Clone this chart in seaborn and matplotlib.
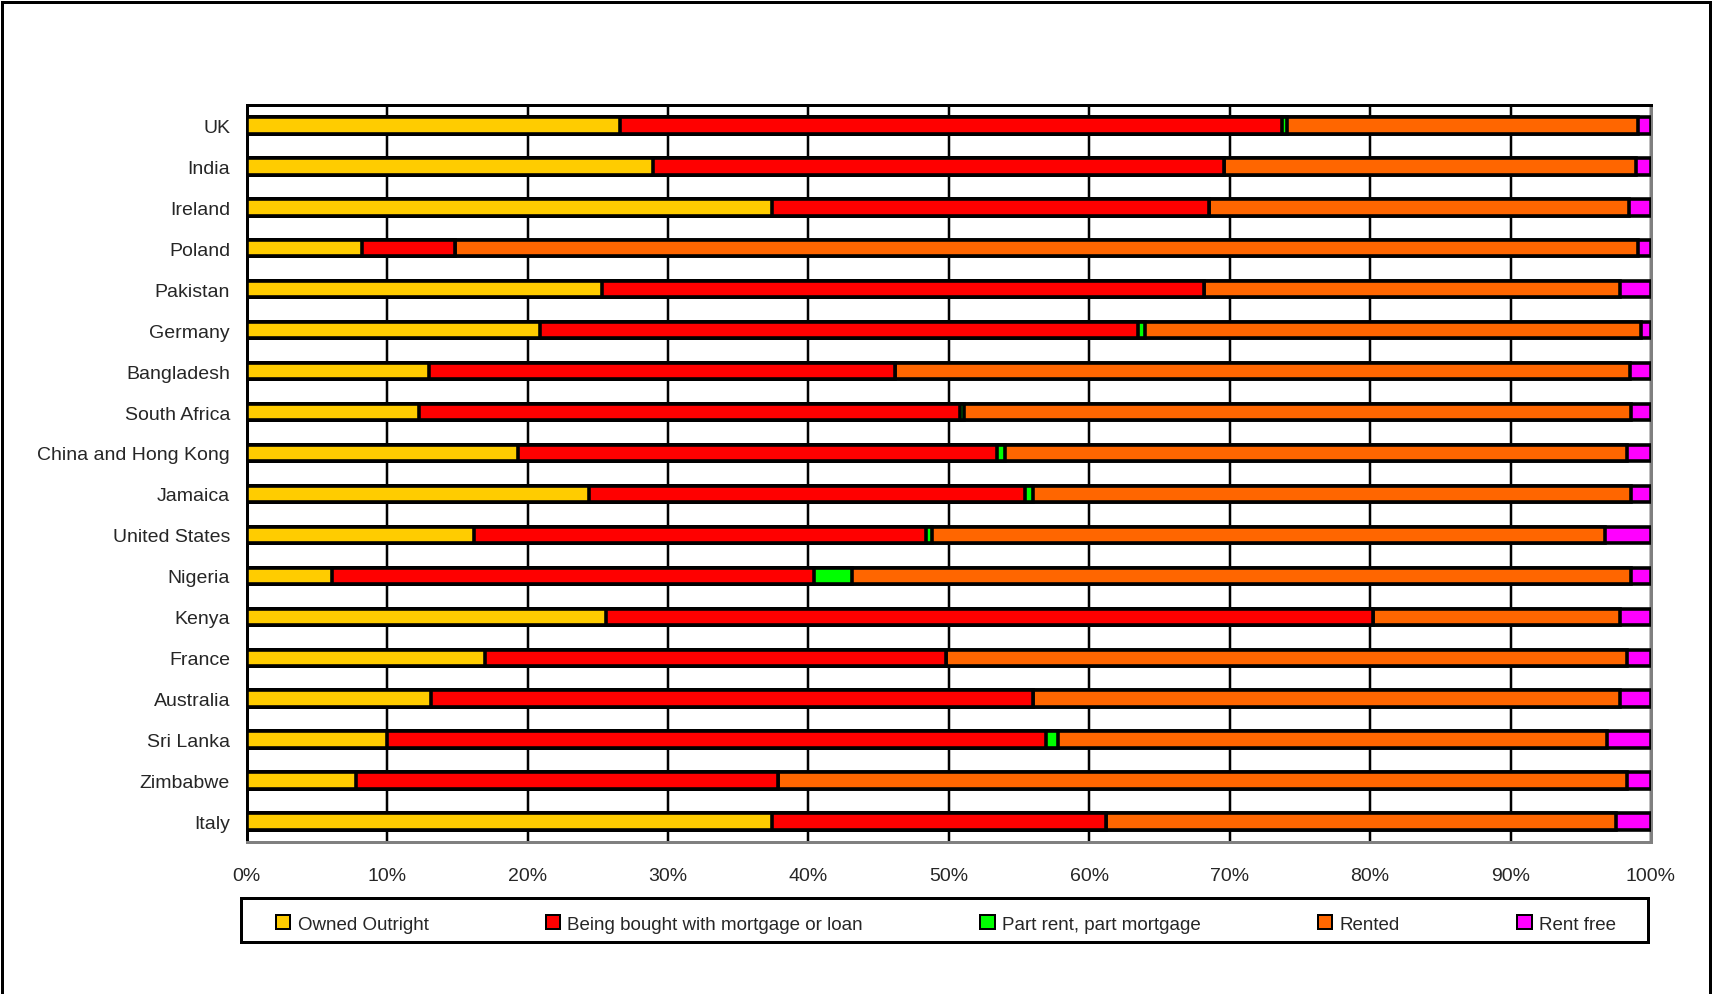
import pandas as pd
import numpy as np
import matplotlib
matplotlib.use('Agg')
import matplotlib.pyplot as plt
import seaborn as sns
from matplotlib.patches import Patch, Rectangle
from matplotlib.ticker import FixedLocator

# Tenure shares (%), top row first
countries = ['UK', 'India', 'Ireland', 'Poland', 'Pakistan', 'Germany', 'Bangladesh',
             'South Africa', 'China and Hong Kong', 'Jamaica', 'United States', 'Nigeria',
             'Kenya', 'France', 'Australia', 'Sri Lanka', 'Zimbabwe', 'Italy']
owned_outright = [26.6, 28.9, 37.4, 8.2, 25.3, 20.9, 13.0, 12.3, 19.3, 24.4, 16.2, 6.1,
                  25.6, 17.0, 13.1, 10.0, 7.8, 37.4]
mortgage = [47.1, 40.7, 31.1, 6.6, 42.9, 42.6, 33.2, 38.5, 34.1, 31.0, 32.2, 34.3,
            54.6, 32.8, 42.9, 46.9, 30.0, 23.8]
part_rent = [0.4, 0.0, 0.0, 0.0, 0.0, 0.5, 0.0, 0.3, 0.6, 0.6, 0.4, 2.7,
             0.0, 0.0, 0.0, 0.9, 0.0, 0.0]
rented = [25.0, 29.3, 29.9, 84.3, 29.6, 35.3, 52.3, 47.5, 44.3, 42.6, 47.9, 55.5,
          17.6, 48.5, 41.8, 39.1, 60.5, 36.3]
rent_free = [0.9, 1.1, 1.6, 0.9, 2.2, 0.7, 1.5, 1.4, 1.7, 1.4, 3.3, 1.4,
             2.2, 1.7, 2.2, 3.1, 1.7, 2.5]

series_names = ['Owned Outright', 'Being bought with mortgage or loan',
                'Part rent, part mortgage', 'Rented', 'Rent free']
series_colors = ['#FFCC00', '#FF0000', '#00FF00', '#FF6600', '#FF00FF']

df = pd.DataFrame({'country': countries, 'Owned Outright': owned_outright,
                   'Being bought with mortgage or loan': mortgage,
                   'Part rent, part mortgage': part_rent,
                   'Rented': rented, 'Rent free': rent_free})
# normalise to 100% like a 100% stacked bar chart
vals = df[series_names]
vals = vals.div(vals.sum(axis=1), axis=0) * 100
cum = vals.cumsum(axis=1)
cum['country'] = df['country']

sns.set_style('white')
plt.rcParams['font.family'] = ['Liberation Sans', 'DejaVu Sans']

W, H = 1713, 995
fig = plt.figure(figsize=(W / 100, H / 100), dpi=100)
ax = fig.add_axes([0.144, 0.1528, 0.8198, 0.7407])

px = 0.72  # points per pixel at 100 dpi

# draw longest cumulative bar first so each shorter one sits on top
for name, color in reversed(list(zip(series_names, series_colors))):
    sns.barplot(data=cum, x=name, y='country', orient='h', color=color,
                saturation=1, edgecolor='black', linewidth=3.6 * px, width=0.4,
                errorbar=None, ax=ax, zorder=3)

ax.set_xlim(0, 100)
ax.set_ylim(len(countries) - 0.5, -0.5)
ax.set_xticks(np.arange(0, 101, 10))
ax.set_xticklabels([f'{v}%' for v in range(0, 101, 10)])
ax.set_xlabel('')
ax.set_ylabel('')

ax.xaxis.grid(True, color='black', linewidth=2.5 * px, zorder=0)
ax.yaxis.grid(False)
ax.set_axisbelow(True)

ax.tick_params(axis='x', length=0, pad=18, labelsize=14)
ax.tick_params(axis='y', which='major', length=0, pad=12, labelsize=14)
ax.yaxis.set_minor_locator(FixedLocator(np.arange(-0.5, len(countries), 1)))
ax.tick_params(axis='y', which='minor', direction='out', length=6 * px,
               width=3 * px, color='black')

for side in ['left', 'top']:
    ax.spines[side].set_color('black')
    ax.spines[side].set_linewidth(3 * px)
for side in ['bottom', 'right']:
    ax.spines[side].set_color('#808080')
    ax.spines[side].set_linewidth(3 * px)

# legend box drawn separately so the entries can have wide side padding
fig.add_artist(Rectangle((241 / W, 1 - 943 / H), (1648 - 241) / W, 44 / H,
                         transform=fig.transFigure, fill=False,
                         edgecolor='black', linewidth=3 * px))
handles = [Patch(facecolor=c, edgecolor='black', linewidth=2 * px, label=n)
           for n, c in zip(series_names, series_colors)]
fig.legend(handles=handles, loc='center', ncol=5, mode='expand',
           bbox_to_anchor=(276 / W, 1 - 947 / H, (1616 - 276) / W, 44 / H),
           fontsize=13.5, frameon=False, handlelength=0.75, handleheight=0.75,
           handletextpad=0.4, borderaxespad=0, borderpad=0)

# chart-area frame (bottom edge falls outside the image)
fig.add_artist(Rectangle((2 / W, -0.05), 1708 / W, 1.05 - 3 / H,
                         transform=fig.transFigure, fill=False,
                         edgecolor='black', linewidth=3 * px))

fig.savefig('out.png', dpi=100)
plt.close(fig)
